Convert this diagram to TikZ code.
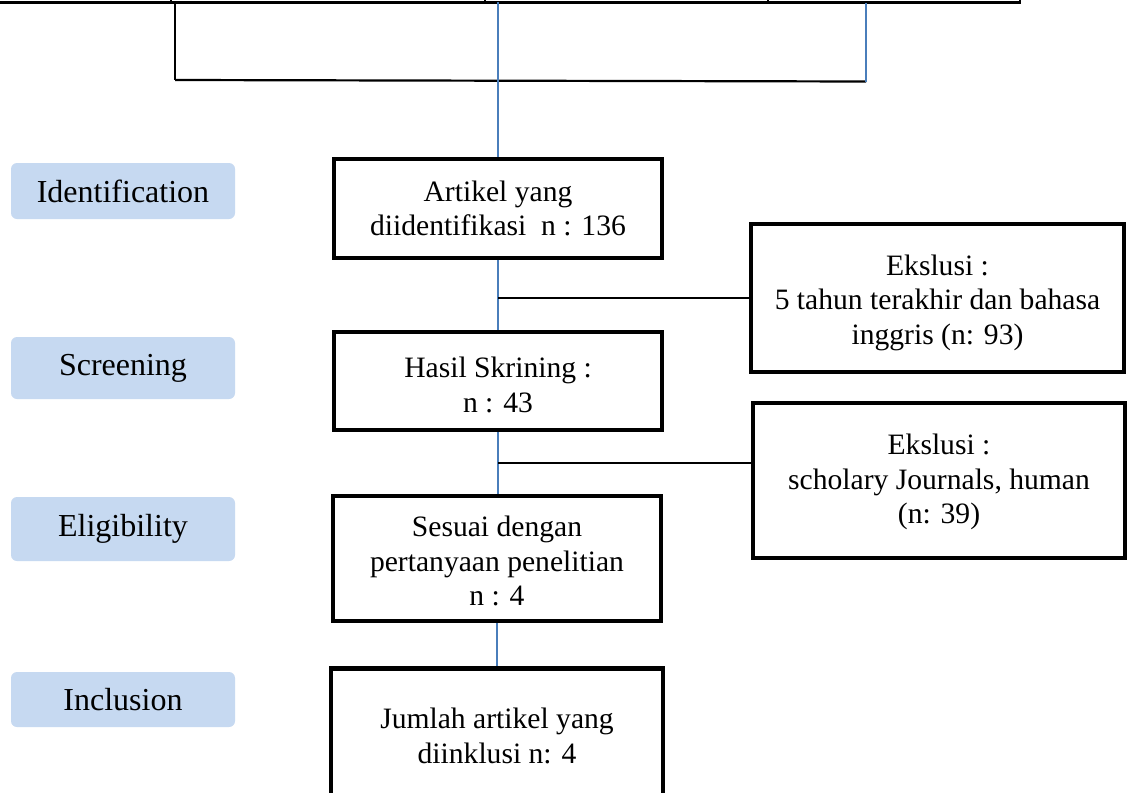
\documentclass[tikz,border=0pt]{standalone}
\usepackage{fontspec}
\setmainfont{Liberation Serif}
\definecolor{lblue}{HTML}{C6D9F1}
\definecolor{cblue}{HTML}{4A7EBB}
\newcommand{\lift}[1]{\rule{0pt}{#1}}
\begin{document}
\begin{tikzpicture}[x=1pt,y=-1pt,
  flowbox/.style={draw=black, line width=4.5pt, rectangle, align=center, inner sep=0pt, font=\fontsize{29.6}{34.5}\selectfont},
  stagebox/.style={fill=lblue, rounded corners=6pt, inner sep=0pt, minimum width=224pt, font=\fontsize{32}{36}\selectfont},
  bline/.style={cblue, line width=1.6pt},
  kline/.style={black, line width=1.6pt},
  tline/.style={black, line width=3pt}]
\path[use as bounding box, clip] (0,0) rectangle (1131,792);
\fill[white] (0,0) rectangle (1131,792);
% top frame
\coordinate (tl) at (0,2.5);
\coordinate (tr) at (1020,2.5);
\draw[tline] (tl) -- (tr);
\draw[line width=1.5pt] (171,0) -- (171,3) (485,0) -- (485,3) (768,0) -- (768,3) (1020,0) -- (1020,4);
% boxes
\node[flowbox, minimum width=328pt, minimum height=99pt] (art) at (498,208.5) {Artikel yang\\diidentifikasi\ \ n : 136};
\node[flowbox, minimum width=328pt, minimum height=98pt] (has) at (498,381) {\lift{28pt}Hasil Skrining :\\n : 43};
\node[flowbox, minimum width=328pt, minimum height=125pt] (ses) at (497,558.5) {\lift{26pt}Sesuai dengan\\pertanyaan penelitian\\n : 4};
\node[flowbox, minimum width=332pt, minimum height=135pt] (jum) at (497,736) {Jumlah artikel yang\\diinklusi n: 4};
\node[flowbox, minimum width=373pt, minimum height=148pt] (ex1) at (937.5,298) {\lift{30pt}Ekslusi :\\5 tahun terakhir dan bahasa\\inggris (n: 93)};
\node[flowbox, minimum width=372pt, minimum height=155pt] (ex2) at (939,480.5) {\lift{24pt}Ekslusi :\\scholary Journals, human\\(n: 39)};
% stage labels
\node[stagebox, minimum height=56pt] (id) at (123,191) {Identification};
\node[stagebox, minimum height=62pt] (scr) at (123,368) {Screening};
\node[stagebox, minimum height=64pt] (eli) at (123,529) {Eligibility};
\node[stagebox, minimum height=55pt] (inc) at (123,699.5) {Inclusion};
% top connectors
\coordinate (a1) at (175,3);
\coordinate (a2) at (175,80);
\coordinate (b1) at (866,3);
\coordinate (b2) at (866,81.5);
\draw[kline] (a1) -- (a2);
\draw[line width=2.2pt] (a2) -- (b2);
\draw[bline] (b1) -- (b2);
\draw[bline] (art.north) -- (art.north |- tl);
% flow connectors
\draw[bline] (art.south) -- (has.north);
\coordinate (j1) at (art.south |- ex1.west);
\draw[kline] (j1) -- (ex1.west);
\draw[bline] (has.south) -- (has.south |- ses.north);
\coordinate (j2) at (has.south |- 0,463);
\draw[kline] (j2) -- (j2 -| ex2.west);
\draw[bline] (ses.south) -- (ses.south |- jum.north);
\end{tikzpicture}
\end{document}
